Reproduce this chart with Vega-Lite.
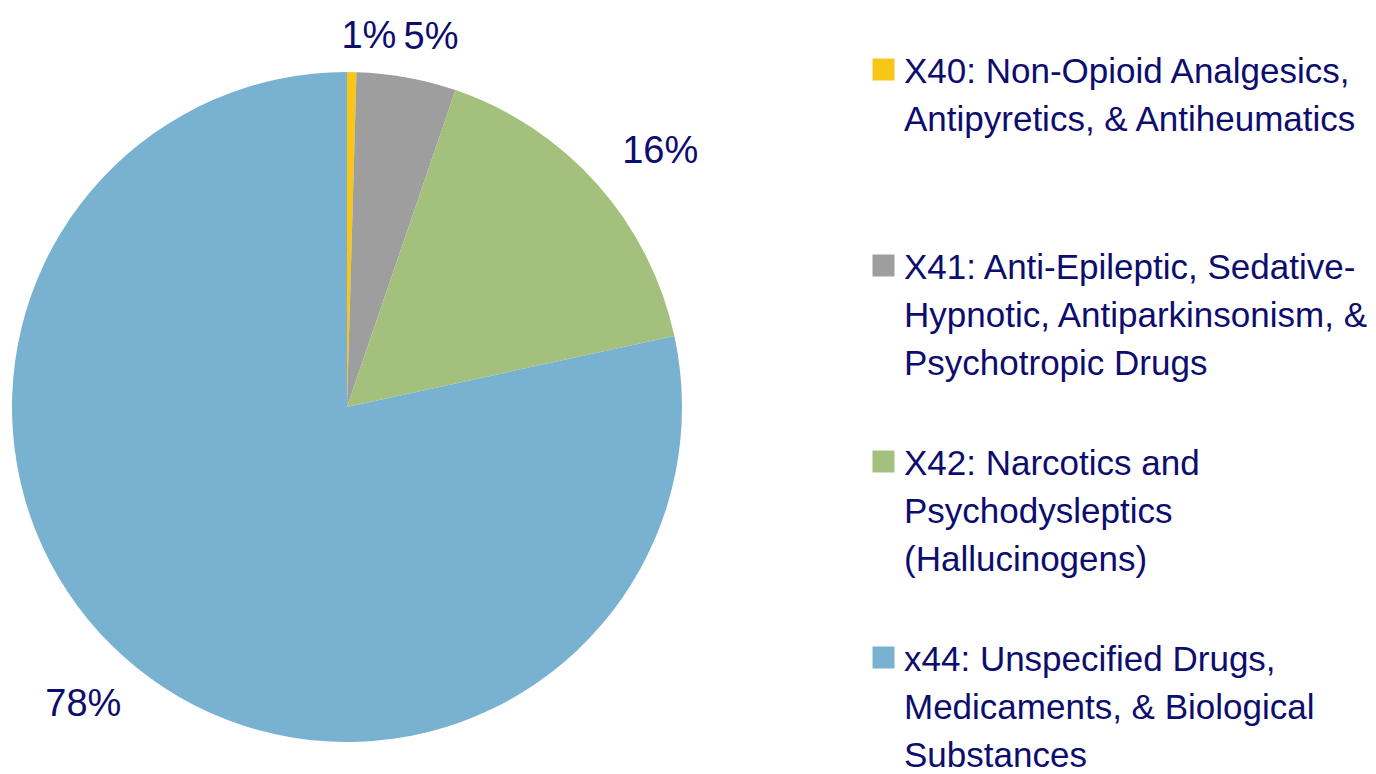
{
  "$schema": "https://vega.github.io/schema/vega-lite/v6.json",
  "width": 694,
  "height": 734,
  "padding": {"top": 40, "left": 0, "right": 682, "bottom": 0},
  "autosize": {"type": "none"},
  "background": "white",
  "config": {"view": {"stroke": null}},
  "data": {
    "values": [
      {"idx": 1, "cat": "X40: Non-Opioid Analgesics,|Antipyretics, & Antiheumatics| ", "share": 0.45, "pct": "1%"},
      {"idx": 2, "cat": "X41: Anti-Epileptic, Sedative-|Hypnotic, Antiparkinsonism, &|Psychotropic Drugs", "share": 4.8, "pct": "5%"},
      {"idx": 3, "cat": "X42: Narcotics and|Psychodysleptics|(Hallucinogens)", "share": 16.35, "pct": "16%"},
      {"idx": 4, "cat": "x44: Unspecified Drugs,|Medicaments, & Biological|Substances", "share": 78.4, "pct": "78%"}
    ]
  },
  "encoding": {
    "theta": {"field": "share", "type": "quantitative", "stack": true},
    "order": {"field": "idx", "type": "quantitative"}
  },
  "layer": [
    {
      "mark": {"type": "arc", "outerRadius": 335},
      "encoding": {
        "color": {
          "field": "cat",
          "type": "nominal",
          "sort": null,
          "scale": {"range": ["#F6C619", "#9E9E9E", "#A3C17D", "#79B2D0"]},
          "legend": {
            "orient": "none",
            "legendX": 866,
            "legendY": 12,
            "title": null,
            "padding": 0,
            "symbolType": "square",
            "symbolSize": 484,
            "symbolStrokeWidth": 0,
            "symbolOpacity": 1,
            "labelFont": "Liberation Sans",
            "labelFontSize": 35,
            "labelColor": "#0d0d6e",
            "labelLimit": 600,
            "labelBaseline": "top",
            "labelOffset": 3,
            "rowPadding": 62,
            "labelExpr": "split(datum.label, '|')",
            "encode": {"labels": {"update": {"lineHeight": {"value": 48}, "dy": {"value": -15}}}}
          }
        }
      }
    },
    {
      "mark": {
        "type": "text",
        "radius": {"expr": "370 + 45 * abs(sin(scale('theta', 0.5 * datum.share_start + 0.5 * datum.share_end)))"},
        "thetaOffset": 0.045,
        "font": "Liberation Sans",
        "fontSize": 38,
        "color": "#0d0d6e",
        "align": "center",
        "baseline": "middle"
      },
      "encoding": {
        "text": {"field": "pct", "type": "nominal"},
        "detail": {"field": "cat", "type": "nominal"}
      }
    }
  ]
}
